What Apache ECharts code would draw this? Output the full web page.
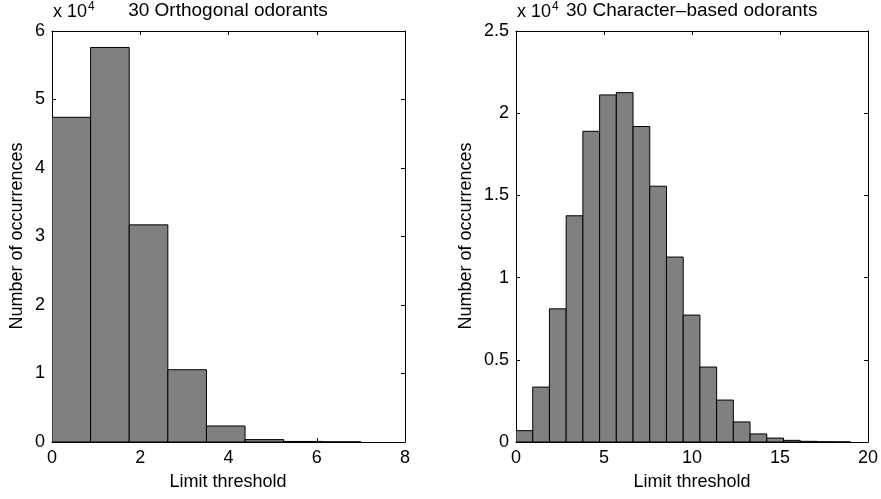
<!DOCTYPE html>
<html><head><meta charset="utf-8">
<script src="https://cdn.jsdelivr.net/npm/echarts@6/dist/echarts.min.js"></script>
<style>html,body{margin:0;padding:0;background:#fff}#c{width:881px;height:499px}</style>
</head><body><div id="c"></div>
<script>
// ---- data ----
const leftBinEdges = [0, 0.875, 1.75, 2.625, 3.5, 4.375, 5.25, 6.125, 7.0];
const leftCounts = [47400, 57600, 31700, 10550, 2340, 350, 80, 20];
const rightBinEdges = [0, 0.95, 1.9, 2.85, 3.8, 4.75, 5.7, 6.65, 7.6, 8.55, 9.5, 10.45, 11.4, 12.35, 13.3, 14.25, 15.2, 16.15, 17.1, 18.05, 19.0];
const rightCounts = [690, 3340, 8100, 13760, 18900, 21110, 21250, 19190, 15560, 11250, 7720, 4560, 2550, 1220, 490, 240, 100, 40, 15, 5];
const leftXTicks = [0, 2, 4, 6, 8];
const leftYTicks = [0, 10000, 20000, 30000, 40000, 50000, 60000];
const rightXTicks = [0, 5, 10, 15, 20];
const rightYTicks = [0, 5000, 10000, 15000, 20000, 25000];
const leftTitle = '30 Orthogonal odorants';
const rightTitle = '30 Character\u2013based odorants';
const xName = 'Limit threshold';
const yName = 'Number of occurrences';

const FONT = '"Liberation Sans", Arial, Helvetica, sans-serif';
const FS = 18;
const TFS = 19;

function xAx(grid, ticks, pos) {
  return {
    type: 'value', gridIndex: grid, position: pos,
    min: ticks[0], max: ticks[ticks.length - 1], interval: ticks[1] - ticks[0],
    axisLine: {show: true, onZero: false, lineStyle: {color: '#000', width: 1}},
    axisTick: {show: true, inside: true, length: 4, lineStyle: {color: '#000'}},
    axisLabel: {show: pos === 'bottom', margin: 7, color: '#000', fontSize: FS, fontFamily: FONT},
    splitLine: {show: false}
  };
}
function yAx(grid, ticks, pos) {
  return {
    type: 'value', gridIndex: grid, position: pos,
    min: ticks[0], max: ticks[ticks.length - 1], interval: ticks[1] - ticks[0],
    axisLine: {show: true, onZero: false, lineStyle: {color: '#000', width: 1}},
    axisTick: {show: true, inside: true, length: 4, lineStyle: {color: '#000'}},
    axisLabel: {show: pos === 'left', margin: 7, color: '#000', fontSize: FS, fontFamily: FONT,
      formatter: v => String(Math.round(v / 1000) / 10)},
    splitLine: {show: false}
  };
}
function histSeries(edges, counts, xi, yi) {
  const data = counts.map((c, i) => [edges[i], edges[i + 1], c]);
  return {
    type: 'custom', xAxisIndex: xi, yAxisIndex: yi, data: data,
    encode: {x: [0, 1], y: 2}, clip: true,
    renderItem: function (params, api) {
      const p0 = api.coord([api.value(0), api.value(2)]);
      const p1 = api.coord([api.value(1), 0]);
      return {type: 'rect',
        shape: {x: p0[0], y: p0[1], width: p1[0] - p0[0], height: p1[1] - p0[1]},
        style: {fill: '#808080', stroke: '#000', lineWidth: 1}};
    }
  };
}

const chart = echarts.init(document.getElementById('c'));
const txt = (x, y, text, extra, fs) => Object.assign({type: 'text', x: x, y: y,
  style: Object.assign({text: text, fill: '#000', font: (fs || FS) + 'px ' + FONT}, extra || {})});
function expLabel(x) {
  return {type: 'text', x: x, y: 24, style: {
    text: '{a|x 10}{b|4}', textVerticalAlign: 'bottom',
    rich: {a: {fontSize: FS, fontFamily: FONT, color: '#000'},
           b: {fontSize: 12, fontFamily: FONT, color: '#000', verticalAlign: 'top', padding: [0, 0, 11, 1]}}
  }};
}
chart.setOption({
  animation: false,
  backgroundColor: '#fff',
  grid: [
    {left: 52, top: 31, width: 353, height: 411},
    {left: 516, top: 31, width: 352, height: 411}
  ],
  xAxis: [xAx(0, leftXTicks, 'bottom'), xAx(0, leftXTicks, 'top'),
          xAx(1, rightXTicks, 'bottom'), xAx(1, rightXTicks, 'top')],
  yAxis: [yAx(0, leftYTicks, 'left'), yAx(0, leftYTicks, 'right'),
          yAx(1, rightYTicks, 'left'), yAx(1, rightYTicks, 'right')],
  series: [histSeries(leftBinEdges, leftCounts, 0, 0),
           histSeries(rightBinEdges, rightCounts, 2, 2)],
  graphic: [
    txt(228, 11, leftTitle, {textAlign: 'center', textVerticalAlign: 'middle'}, TFS),
    txt(566, 11, rightTitle, {textAlign: 'left', textVerticalAlign: 'middle'}, TFS),
    txt(228, 482, xName, {textAlign: 'center', textVerticalAlign: 'middle'}),
    txt(692, 482, xName, {textAlign: 'center', textVerticalAlign: 'middle'}),
    Object.assign(txt(17.5, 236, yName, {textAlign: 'center', textVerticalAlign: 'middle'}), {rotation: Math.PI / 2}),
    Object.assign(txt(466.5, 236, yName, {textAlign: 'center', textVerticalAlign: 'middle'}), {rotation: Math.PI / 2}),
    expLabel(53),
    expLabel(517)
  ]
});
</script></body></html>
